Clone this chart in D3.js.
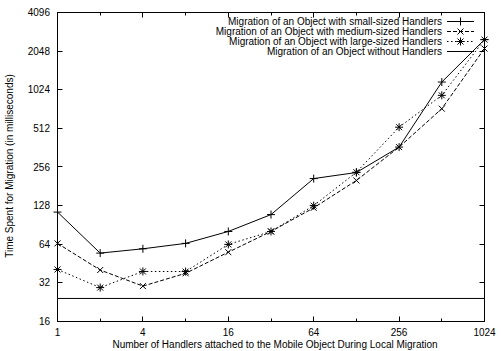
<!DOCTYPE html>
<html>
<head>
<meta charset="utf-8">
<script src="https://cdn.jsdelivr.net/npm/d3@7"></script>
<style>
  body { margin: 0; background: #fff; }
  text { font-family: "Liberation Sans", Arial, sans-serif; font-size: 10px; fill: #000; }
</style>
</head>
<body>
<svg id="chart" width="501" height="351"></svg>
<script>
var handlers = [1, 2, 4, 8, 16, 32, 64, 128, 256, 512, 1024];
var smallSized  = [114, 54.6, 59, 65, 80.5, 109, 208, 232, 366, 1176, 2518];
var mediumSized = [65, 40.3, 30.2, 38, 55.5, 80.5, 123, 201, 366, 729, 2146];
var largeSized  = [40.7, 29.4, 39.3, 39.2, 63.8, 80.5, 128, 233, 523, 926, 2518];
var noHandlers  = [24.2, 24.2];
var noHandlersX = [1, 1024];
var xTicks = [1, 4, 16, 64, 256, 1024];
var xMinor = [2, 8, 32, 128, 512];
var yTicks = [16, 32, 64, 128, 256, 512, 1024, 2048, 4096];
var seriesNames = [
  'Migration of an Object with small-sized Handlers',
  'Migration of an Object with medium-sized Handlers',
  'Migration of an Object with large-sized Handlers',
  'Migration of an Object without Handlers'
];

var svg = d3.select('#chart');
var pLeft = 57.5, pRight = 484.5, pTop = 12.5, pBottom = 321.5;

var x = d3.scaleLog().base(2).domain([1, 1024]).range([pLeft, pRight]);
var y = d3.scaleLog().base(2).domain([16, 4096]).range([pBottom, pTop]);

// frame
svg.append('rect')
  .attr('x', pLeft).attr('y', pTop)
  .attr('width', pRight - pLeft).attr('height', pBottom - pTop)
  .attr('fill', 'none').attr('stroke', '#000');

// ticks (inward, mirrored like gnuplot)
var g = svg.append('g').attr('stroke', '#000');
yTicks.forEach(function (v) {
  var yy = Math.round(y(v) - 0.5) + 0.5;
  g.append('line').attr('x1', pLeft).attr('x2', pLeft + 5).attr('y1', yy).attr('y2', yy);
  g.append('line').attr('x1', pRight - 5).attr('x2', pRight).attr('y1', yy).attr('y2', yy);
});
xTicks.forEach(function (v) {
  var xx = Math.round(x(v) - 0.5) + 0.5;
  g.append('line').attr('x1', xx).attr('x2', xx).attr('y1', pBottom).attr('y2', pBottom - 5);
  g.append('line').attr('x1', xx).attr('x2', xx).attr('y1', pTop).attr('y2', pTop + 5);
});
xMinor.forEach(function (v) {
  var xx = Math.round(x(v) - 0.5) + 0.5;
  g.append('line').attr('x1', xx).attr('x2', xx).attr('y1', pBottom).attr('y2', pBottom - 3);
  g.append('line').attr('x1', xx).attr('x2', xx).attr('y1', pTop).attr('y2', pTop + 3);
});

// tick labels
svg.selectAll('.ylab').data(yTicks).enter().append('text')
  .attr('x', 50).attr('y', d => y(d) + 3.5)
  .attr('text-anchor', 'end')
  .text(d => d);
svg.selectAll('.xlab').data(xTicks).enter().append('text')
  .attr('x', d => x(d)).attr('y', 336)
  .attr('text-anchor', 'middle')
  .text(d => d);

// axis titles
svg.append('text')
  .attr('x', 275).attr('y', 348)
  .attr('text-anchor', 'middle')
  .text('Number of Handlers attached to the Mobile Object During Local Migration');
svg.append('text')
  .attr('transform', 'translate(13,166) rotate(-90)')
  .attr('text-anchor', 'middle')
  .text('Time Spent for Migration (in milliseconds)');

// markers
function plus(sel, cx, cy) {
  sel.append('path').attr('d', 'M' + (cx - 4) + ',' + cy + 'H' + (cx + 4) + 'M' + cx + ',' + (cy - 4) + 'V' + (cy + 4));
}
function cross(sel, cx, cy) {
  sel.append('path').attr('d', 'M' + (cx - 3) + ',' + (cy - 3) + 'L' + (cx + 3) + ',' + (cy + 3) + 'M' + (cx - 3) + ',' + (cy + 3) + 'L' + (cx + 3) + ',' + (cy - 3));
}
function star(sel, cx, cy) { plus(sel, cx, cy); cross(sel, cx, cy); }

var series = [
  { vals: smallSized, dash: null, mark: plus },
  { vals: mediumSized, dash: '4,2', mark: cross },
  { vals: largeSized, dash: '1.5,2.5', mark: star }
];

var line = d3.line().x(d => x(d[0])).y(d => y(d[1]));

series.forEach(function (s) {
  var pts = handlers.map((h, i) => [h, s.vals[i]]);
  svg.append('path')
    .attr('d', line(pts))
    .attr('fill', 'none').attr('stroke', '#000')
    .attr('stroke-dasharray', s.dash);
  var mg = svg.append('g').attr('stroke', '#000').attr('fill', 'none');
  pts.forEach(p => s.mark(mg, x(p[0]), y(p[1])));
});

svg.append('path')
  .attr('d', line(noHandlersX.map((h, i) => [h, noHandlers[i]])))
  .attr('fill', 'none').attr('stroke', '#000');

// legend
var legend = svg.append('g');
var marks = [plus, cross, star, null];
var dashes = [null, '4,2', '1.5,2.5', null];
seriesNames.forEach(function (name, i) {
  var ly = 21.5 + i * 10;
  legend.append('text')
    .attr('x', 442).attr('y', ly + 3.5)
    .attr('text-anchor', 'end')
    .text(name);
  legend.append('line')
    .attr('x1', 447).attr('x2', 474).attr('y1', ly).attr('y2', ly)
    .attr('stroke', '#000').attr('stroke-dasharray', dashes[i]);
  if (marks[i]) {
    var mg = legend.append('g').attr('stroke', '#000');
    marks[i](mg, 460.5, ly);
  }
});
</script>
</body>
</html>
